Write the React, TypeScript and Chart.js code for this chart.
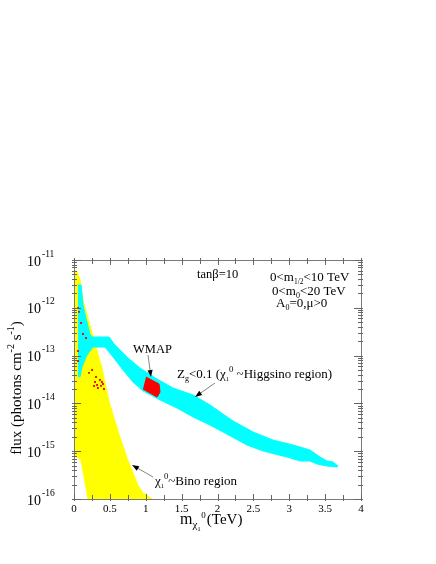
import React, { useEffect, useRef } from 'react';
import { Chart, registerables } from 'chart.js';

Chart.register(...registerables);

// ---------- data ----------
const xTickValues = [0, 0.5, 1, 1.5, 2, 2.5, 3, 3.5, 4];
const xTickLabels = ['0', '0.5', '1', '1.5', '2', '2.5', '3', '3.5', '4'];
const yDecades = [-16, -15, -14, -13, -12, -11];

// Bino region (yellow) outline: m_chi (TeV), flux
const binoX = [0, 0.04, 0.084, 0.125, 0.25, 0.39, 0.49, 0.64, 0.75, 0.89, 0.96, 1.09, 0.195, 0.098, 0];
const binoY = [6.2e-12, 5.9e-12, 3.8e-12, 1.45e-12, 3.0e-13, 5.4e-14, 1.07e-14, 1.98e-15, 6.5e-16, 1.96e-16, 1.34e-16, 1.0e-16, 1.0e-16, 6.5e-16, 8.3e-16];

// Higgsino region (cyan) outline
const higgsX = [
  0.056, 0.098, 0.125, 0.181, 0.223, 0.251, 0.488, 0.571, 0.739, 0.92, 1.157, 1.38, 1.659, 1.895, 2.216,
  2.495, 2.774, 3.052, 3.289, 3.429, 3.526, 3.61, 3.679, 3.666,
  3.526, 3.387, 3.289, 3.15, 2.969, 2.634, 2.411, 2.174, 1.895, 1.659, 1.436, 1.199, 0.962, 0.822,
  0.683, 0.544, 0.432, 0.265, 0.181, 0.111, 0.084, 0.056,
];
const higgsY = [
  3.0e-12, 3.0e-12, 1.15e-12, 5.0e-13, 2.8e-13, 2.45e-13, 2.45e-13, 1.67e-13, 9.35e-14, 5.5e-14, 3.25e-14, 2.1e-14, 1.5e-14, 9.3e-15, 4.3e-15,
  2.52e-15, 1.71e-15, 1.35e-15, 1.06e-15, 7.56e-16, 6.24e-16, 5.95e-16, 4.9e-16, 4.67e-16,
  4.9e-16, 5.4e-16, 6.24e-16, 6.24e-16, 7.56e-16, 1.01e-15, 1.35e-15, 2.1e-15, 3.53e-15, 5.19e-15, 8.0e-15, 1.18e-14, 1.82e-14, 2.8e-14,
  5.0e-14, 9.35e-14, 1.51e-13, 1.51e-13, 1.03e-13, 5.77e-14, 3.57e-14, 3.7e-14,
];

// WMAP patch (red)
const wmapX = [1.003, 1.185, 1.199, 1.157, 0.962];
const wmapY = [3.57e-14, 2.55e-14, 1.73e-14, 1.36e-14, 2.0e-14];

// WMAP-compatible scattered points (red dots)
const dotsX = [0.056, 0.07, 0.098, 0.125, 0.167, 0.056, 0.056, 0.251, 0.209, 0.307, 0.362, 0.293, 0.39, 0.404, 0.321, 0.376, 0.334, 0.418, 0.279];
const dotsY = [9.9e-13, 8.2e-13, 4.8e-13, 2.83e-13, 2.33e-13, 1.25e-13, 7.7e-14, 5.0e-14, 4.34e-14, 3.57e-14, 3.09e-14, 2.8e-14, 2.8e-14, 2.55e-14, 2.43e-14, 2.32e-14, 2.1e-14, 2.0e-14, 2.31e-14];

const zip = (xs: number[], ys: number[]) => xs.map((x, i) => ({ x, y: ys[i] }));

// ---------- drawing helpers ----------
const SERIF = '"Liberation Serif", "Times New Roman", serif';

type Run = { t: string; s: number; dy?: number; dx?: number };

function richWidth(ctx: CanvasRenderingContext2D, runs: Run[]) {
  let w = 0;
  for (const r of runs) {
    ctx.font = `${r.s}px ${SERIF}`;
    w += (r.dx ?? 0) + ctx.measureText(r.t).width;
  }
  return w;
}

function drawRich(ctx: CanvasRenderingContext2D, x: number, y: number, runs: Run[]) {
  let cx = x;
  ctx.textAlign = 'left';
  ctx.textBaseline = 'alphabetic';
  for (const r of runs) {
    ctx.font = `${r.s}px ${SERIF}`;
    cx += r.dx ?? 0;
    ctx.fillText(r.t, cx, y + (r.dy ?? 0));
    cx += ctx.measureText(r.t).width;
  }
}

function arrow(ctx: CanvasRenderingContext2D, x1: number, y1: number, x2: number, y2: number) {
  ctx.save();
  ctx.strokeStyle = '#666';
  ctx.lineWidth = 0.8;
  const ang = Math.atan2(y2 - y1, x2 - x1);
  const len = 7;
  const hw = 2.6;
  ctx.beginPath();
  ctx.moveTo(x1, y1);
  ctx.lineTo(x2 - Math.cos(ang) * len * 0.8, y2 - Math.sin(ang) * len * 0.8);
  ctx.stroke();
  ctx.fillStyle = '#000';
  ctx.beginPath();
  ctx.moveTo(x2, y2);
  ctx.lineTo(x2 - Math.cos(ang) * len + Math.sin(ang) * hw, y2 - Math.sin(ang) * len - Math.cos(ang) * hw);
  ctx.lineTo(x2 - Math.cos(ang) * len - Math.sin(ang) * hw, y2 - Math.sin(ang) * len + Math.cos(ang) * hw);
  ctx.closePath();
  ctx.fill();
  ctx.restore();
}

const decorPlugin = {
  id: 'decor',
  afterDraw(chart: any) {
    const { ctx, chartArea: a, scales } = chart;
    const xs = scales.x;
    const ys = scales.y;
    ctx.save();

    // frame
    ctx.strokeStyle = '#7a7a7a';
    ctx.lineWidth = 1;
    ctx.strokeRect(a.left + 0.5, a.top + 0.5, a.right - a.left, a.bottom - a.top);

    // x ticks (every 0.25)
    ctx.strokeStyle = '#666';
    for (let i = 0; i <= 16; i++) {
      const v = i * 0.25;
      const px = Math.round(xs.getPixelForValue(v)) + 0.5;
      const inLen = i % 2 === 0 ? 5 : 4;
      ctx.beginPath();
      ctx.moveTo(px, a.bottom + 2);
      ctx.lineTo(px, a.bottom - inLen);
      ctx.moveTo(px, a.top - 2);
      ctx.lineTo(px, a.top + inLen);
      ctx.stroke();
    }

    // y ticks (log)
    for (const d of yDecades) {
      for (let m = 1; m <= 9; m++) {
        if (d === -11 && m > 1) break;
        const val = m * Math.pow(10, d);
        const py = Math.round(ys.getPixelForValue(val)) + 0.5;
        const inLen = m === 1 ? 7 : 3;
        ctx.beginPath();
        ctx.moveTo(a.left - 2, py);
        ctx.lineTo(a.left + inLen, py);
        ctx.moveTo(a.right + 2, py);
        ctx.lineTo(a.right - inLen, py);
        ctx.stroke();
      }
    }

    ctx.fillStyle = '#000';

    // x tick labels
    ctx.font = `11px ${SERIF}`;
    ctx.textAlign = 'center';
    ctx.textBaseline = 'alphabetic';
    xTickValues.forEach((v, i) => {
      ctx.fillText(xTickLabels[i], xs.getPixelForValue(v), a.bottom + 13);
    });

    // y tick labels 10^k
    for (const d of yDecades) {
      const py = ys.getPixelForValue(Math.pow(10, d));
      drawRich(ctx, 27, py + 5.5, [
        { t: '10', s: 14 },
        { t: String(d), s: 9.5, dy: -9, dx: 1 },
      ]);
    }

    // y axis title (rotated)
    const yTitle: Run[] = [
      { t: 'flux (photons cm', s: 15 },
      { t: '-2', s: 10, dy: -7 },
      { t: ' s', s: 15 },
      { t: '-1', s: 10, dy: -7 },
      { t: ')', s: 15 },
    ];
    const tw = richWidth(ctx, yTitle);
    ctx.save();
    ctx.translate(21, 388);
    ctx.rotate(-Math.PI / 2);
    drawRich(ctx, -tw / 2, 0, yTitle);
    ctx.restore();

    // x axis title
    drawRich(ctx, 180, 524, [
      { t: 'm', s: 16 },
      { t: 'χ', s: 11, dy: 4 },
      { t: '1', s: 7, dy: 7 },
      { t: '0', s: 9, dy: -6, dx: 0.5 },
      { t: '(TeV)', s: 15, dx: 1 },
    ]);

    // annotations
    drawRich(ctx, 197, 278, [{ t: 'tanβ=10', s: 12.5 }]);
    drawRich(ctx, 270, 281, [
      { t: '0<m', s: 13 },
      { t: '1/2', s: 7.5, dy: 3 },
      { t: '<10 TeV', s: 13 },
    ]);
    drawRich(ctx, 272, 295, [
      { t: '0<m', s: 13 },
      { t: '0', s: 8, dy: 3 },
      { t: '<20 TeV', s: 13 },
    ]);
    drawRich(ctx, 276, 307, [
      { t: 'A', s: 13 },
      { t: '0', s: 8, dy: 3 },
      { t: '=0,μ>0', s: 13 },
    ]);
    drawRich(ctx, 133, 353, [{ t: 'WMAP', s: 12.5 }]);
    drawRich(ctx, 177, 378, [
      { t: 'Z', s: 13 },
      { t: 'g', s: 8, dy: 3 },
      { t: '<0.1 (χ', s: 13 },
      { t: '1', s: 6.5, dy: 3 },
      { t: '0', s: 8.5, dy: -6 },
      { t: ' ~Higgsino region)', s: 13 },
    ]);
    drawRich(ctx, 155, 485, [
      { t: 'χ', s: 13 },
      { t: '1', s: 6.5, dy: 3 },
      { t: '0', s: 8.5, dy: -6 },
      { t: '~Bino region', s: 13 },
    ]);

    arrow(ctx, 148, 355, 151, 377);
    arrow(ctx, 215, 383, 195, 397);
    arrow(ctx, 153, 477, 132, 465);

    ctx.restore();
  },
};

export default function App() {
  const ref = useRef<HTMLCanvasElement | null>(null);

  useEffect(() => {
    if (!ref.current) return;
    const poly = (xs: number[], ys: number[], color: string, order: number) => ({
      data: zip(xs, ys),
      showLine: true,
      fill: 'shape',
      backgroundColor: color,
      borderColor: color,
      borderWidth: 1,
      pointRadius: 0,
      tension: 0,
      order,
    });
    const chart = new Chart(ref.current, {
      type: 'scatter',
      data: {
        datasets: [
          {
            data: zip(dotsX, dotsY),
            showLine: false,
            pointStyle: 'rect',
            pointRadius: 1.3,
            backgroundColor: '#ff0000',
            borderWidth: 0,
            order: 0,
          } as any,
          poly(wmapX, wmapY, '#ff0000', 1),
          poly(higgsX, higgsY, '#00ffff', 2),
          poly(binoX, binoY, '#ffff00', 3),
        ],
      },
      options: {
        animation: false,
        responsive: false,
        maintainAspectRatio: false,
        layout: { padding: { left: 74, right: 75, top: 260, bottom: 65 } },
        plugins: { legend: { display: false }, tooltip: { enabled: false } },
        events: [],
        scales: {
          x: { type: 'linear', min: 0, max: 4, display: false },
          y: { type: 'logarithmic', min: 1e-16, max: 1e-11, display: false },
        },
      } as any,
      plugins: [decorPlugin],
    });
    return () => chart.destroy();
  }, []);

  return (
    <div style={{ position: 'absolute', left: 0, top: 0, width: 436, height: 564, background: '#fff' }}>
      <canvas ref={ref} width={436} height={564} style={{ width: 436, height: 564, display: 'block' }} />
    </div>
  );
}
